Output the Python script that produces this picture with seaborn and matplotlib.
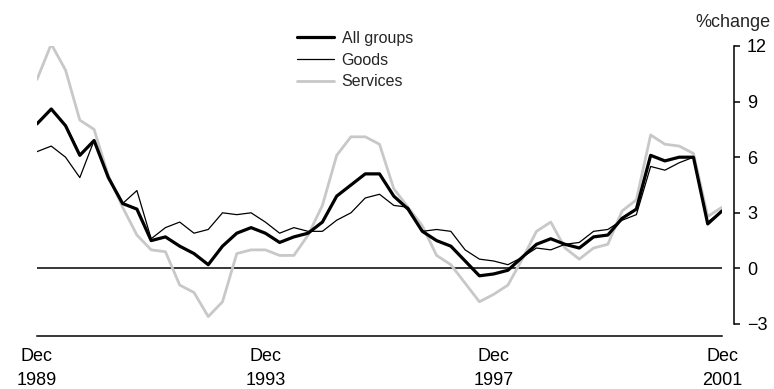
import matplotlib
matplotlib.use("Agg")
import matplotlib.pyplot as plt
import seaborn as sns
import pandas as pd

# Annual % change, quarterly from Dec 1989 to Dec 2001
all_groups = [7.8, 8.6, 7.7, 6.1, 6.9, 4.9, 3.5, 3.2, 1.5, 1.7, 1.2, 0.8, 0.2,
              1.2, 1.9, 2.2, 1.9, 1.4, 1.7, 1.9, 2.5, 3.9, 4.5, 5.1, 5.1, 3.9,
              3.2, 2.0, 1.5, 1.2, 0.4, -0.4, -0.3, -0.1, 0.6, 1.3, 1.6, 1.3,
              1.1, 1.7, 1.8, 2.7, 3.2, 6.1, 5.8, 6.0, 6.0, 2.4, 3.1]
goods = [6.3, 6.6, 6.0, 4.9, 6.9, 4.9, 3.5, 4.2, 1.6, 2.2, 2.5, 1.9, 2.1,
         3.0, 2.9, 3.0, 2.5, 1.9, 2.2, 2.0, 2.0, 2.6, 3.0, 3.8, 4.0, 3.4,
         3.3, 2.0, 2.1, 2.0, 1.0, 0.5, 0.4, 0.2, 0.6, 1.1, 1.0, 1.3,
         1.4, 2.0, 2.1, 2.6, 2.9, 5.5, 5.3, 5.7, 6.0, 2.5, 3.1]
services = [10.2, 12.1, 10.7, 8.0, 7.5, 5.0, 3.3, 1.8, 1.0, 0.9, -0.9, -1.3, -2.6,
            -1.8, 0.8, 1.0, 1.0, 0.7, 0.7, 1.8, 3.4, 6.1, 7.1, 7.1, 6.7, 4.3,
            3.3, 2.3, 0.7, 0.2, -0.8, -1.8, -1.4, -0.9, 0.5, 2.0, 2.5, 1.1,
            0.5, 1.1, 1.3, 3.1, 3.7, 7.2, 6.7, 6.6, 6.2, 2.8, 3.3]
quarter = list(range(len(all_groups)))

x_tick_pos = [0, 16, 32, 48]
x_tick_labels = ["Dec\n1989", "Dec\n1993", "Dec\n1997", "Dec\n2001"]
y_ticks = [-3, 0, 3, 6, 9, 12]

df = pd.DataFrame({"quarter": quarter, "All groups": all_groups,
                   "Goods": goods, "Services": services})

sns.set_style("white")
plt.rcParams["font.family"] = ["Liberation Sans", "DejaVu Sans"]
plt.rcParams["axes.unicode_minus"] = True

fig = plt.figure(figsize=(7.74, 3.89), dpi=100)
ax = fig.add_axes([37 / 774, 1 - 324 / 389, (722 - 37) / 774, (324 - 46) / 389])

ax.axhline(0, color="black", lw=1.1, zorder=1)

sns.lineplot(data=df, x="quarter", y="Services", ax=ax, color="#c8c8c8",
             lw=2.0, label="Services", zorder=2)
sns.lineplot(data=df, x="quarter", y="Goods", ax=ax, color="black",
             lw=0.9, label="Goods", zorder=3)
sns.lineplot(data=df, x="quarter", y="All groups", ax=ax, color="black",
             lw=2.3, label="All groups", zorder=4)

ax.set_xlim(0, 48)
ax.set_ylim(-3, 12)
ax.set_xlabel("")
ax.set_ylabel("")

for s in ["top", "left"]:
    ax.spines[s].set_visible(False)
ax.spines["right"].set_position(("outward", 8.6))
ax.spines["bottom"].set_position(("outward", 8.6))
for s in ["right", "bottom"]:
    ax.spines[s].set_linewidth(1.1)
    ax.spines[s].set_color("black")

ax.yaxis.tick_right()
ax.set_yticks(y_ticks)
ax.set_yticklabels([f"{v}".replace("-", "\u2212") for v in y_ticks])
ax.tick_params(axis="y", direction="out", length=4.3, width=1.1, pad=5,
               labelsize=13, colors="black", left=False, right=True)
ax.set_xticks(x_tick_pos)
ax.set_xticklabels(x_tick_labels, linespacing=1.5)
ax.tick_params(axis="x", direction="out", length=4.3, width=1.1, pad=4.5,
               labelsize=13, colors="black")

fig.text(770 / 774, 1 - 27 / 389, "%change", ha="right", va="baseline",
         fontsize=13)

handles, labels = ax.get_legend_handles_labels()
order = [labels.index(n) for n in ["All groups", "Goods", "Services"]]
ax.legend([handles[i] for i in order], [labels[i] for i in order],
          loc="upper left", bbox_to_anchor=(297 / 774, 1 - 31 / 389),
          bbox_transform=fig.transFigure, frameon=False, fontsize=11.5,
          handlelength=2.3, handletextpad=0.5, labelspacing=0.42,
          borderpad=0, borderaxespad=0)

fig.savefig("out.png", dpi=100)
